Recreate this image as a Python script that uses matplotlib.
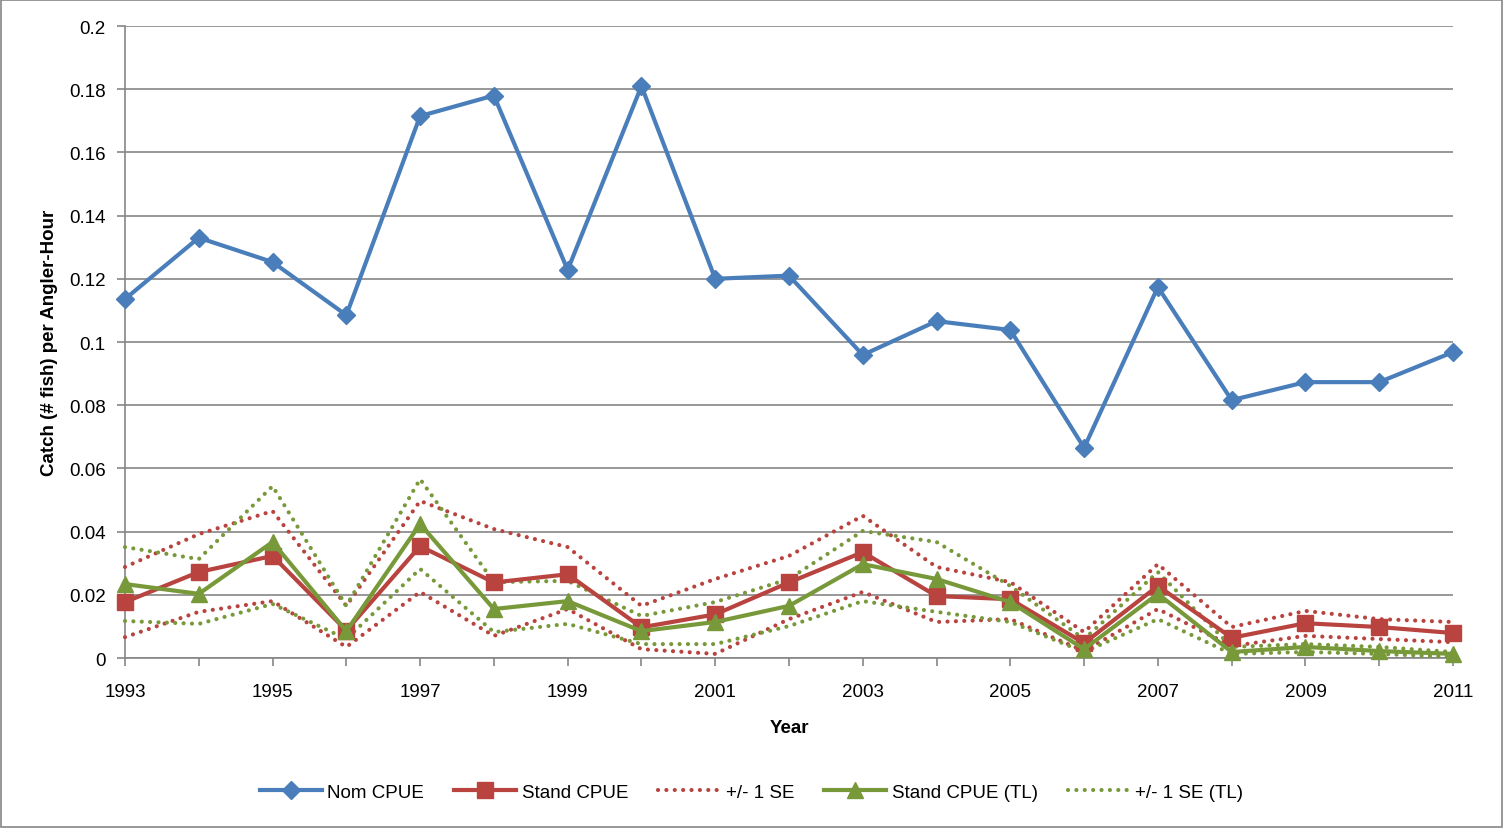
import matplotlib.pyplot as plt
from matplotlib.patches import Rectangle

years = list(range(1993, 2012))

nom_cpue = [0.1136, 0.1330, 0.1253, 0.1085, 0.1715, 0.1780, 0.1228, 0.1810, 0.1200, 0.1210,
            0.0959, 0.1066, 0.1038, 0.0665, 0.1174, 0.0816, 0.0873, 0.0873, 0.0968]

stand_cpue = [0.0177, 0.0272, 0.0323, 0.0087, 0.0354, 0.0239, 0.0265, 0.0097, 0.0138, 0.0239,
              0.0335, 0.0196, 0.0186, 0.0047, 0.0228, 0.0064, 0.0110, 0.0098, 0.0079]
se_upper = [0.0288, 0.0392, 0.0465, 0.0165, 0.0497, 0.0408, 0.0351, 0.0165, 0.0250, 0.0323,
            0.0450, 0.0288, 0.0240, 0.0082, 0.0297, 0.0098, 0.0149, 0.0123, 0.0114]
se_lower = [0.0066, 0.0146, 0.0180, 0.0035, 0.0209, 0.0070, 0.0155, 0.0028, 0.0013, 0.0123,
            0.0209, 0.0114, 0.0123, 0.0022, 0.0155, 0.0038, 0.0070, 0.0060, 0.0050]

stand_tl = [0.0234, 0.0203, 0.0367, 0.0085, 0.0424, 0.0155, 0.0180, 0.0085, 0.0114, 0.0165,
            0.0297, 0.0250, 0.0177, 0.0028, 0.0203, 0.0019, 0.0035, 0.0022, 0.0013]
se_tl_upper = [0.0351, 0.0313, 0.0544, 0.0165, 0.0566, 0.0240, 0.0244, 0.0133, 0.0177, 0.0250,
               0.0402, 0.0367, 0.0228, 0.0060, 0.0272, 0.0035, 0.0044, 0.0035, 0.0019]
se_tl_lower = [0.0117, 0.0108, 0.0171, 0.0060, 0.0282, 0.0082, 0.0108, 0.0044, 0.0044, 0.0101,
               0.0180, 0.0146, 0.0114, 0.0019, 0.0123, 0.0013, 0.0019, 0.0013, 0.0003]

BLUE = '#4A7EBB'
RED = '#B8433F'
GREEN = '#78993A'
GRID = '#868686'

plt.rcParams['font.family'] = ['Liberation Sans', 'DejaVu Sans']

fig = plt.figure(figsize=(15.03, 8.29), dpi=100)
ax = fig.add_axes([125 / 1503, 1 - 659 / 829, (1453 - 125) / 1503, (659 - 27) / 829])

dot = dict(linestyle=(0, (0.01, 2.0)), linewidth=3.0, dash_capstyle='round', clip_on=False)

ax.plot(years, nom_cpue, color=BLUE, linewidth=3, marker='D', markersize=9, label='Nom CPUE',
        zorder=6, clip_on=False)
ax.plot(years, stand_cpue, color=RED, linewidth=3, marker='s', markersize=11, label='Stand CPUE',
        zorder=5, clip_on=False)
ax.plot(years, se_upper, color=RED, label='+/- 1 SE', zorder=3, **dot)
ax.plot(years, se_lower, color=RED, zorder=3, **dot)
ax.plot(years, stand_tl, color=GREEN, linewidth=3, marker='^', markersize=12, label='Stand CPUE (TL)',
        zorder=5, clip_on=False)
ax.plot(years, se_tl_upper, color=GREEN, label='+/- 1 SE (TL)', zorder=4, **dot)
ax.plot(years, se_tl_lower, color=GREEN, zorder=4, **dot)

ax.set_xlim(1993, 2011)
ax.set_ylim(0, 0.2)
ax.set_xticks(years)
ax.set_xticklabels([str(y) if (y - 1993) % 2 == 0 else '' for y in years])
ax.set_yticks([0, 0.02, 0.04, 0.06, 0.08, 0.1, 0.12, 0.14, 0.16, 0.18, 0.2])
ax.set_yticklabels(['0', '0.02', '0.04', '0.06', '0.08', '0.1', '0.12', '0.14', '0.16', '0.18', '0.2'])
ax.tick_params(axis='both', labelsize=13.5, color=GRID, length=6, width=1.2)
ax.tick_params(axis='x', pad=12)
ax.tick_params(axis='y', pad=8)
ax.yaxis.grid(True, color=GRID, linewidth=1.2)
ax.set_axisbelow(True)
for side in ['top', 'right']:
    ax.spines[side].set_visible(False)
for side in ['left', 'bottom']:
    ax.spines[side].set_color(GRID)
    ax.spines[side].set_linewidth(1.2)

ax.set_xlabel('Year', fontsize=13.5, fontweight='bold', labelpad=14)
ax.set_ylabel('Catch (# fish) per Angler-Hour', fontsize=13.5, fontweight='bold', labelpad=8)

handles, labels = ax.get_legend_handles_labels()
fig.legend(handles, labels, loc='center', bbox_to_anchor=(0.5, 1 - 793 / 829), ncol=5,
           frameon=False, fontsize=13.5, handlelength=3.3, columnspacing=1.6, handletextpad=0.3)

fig.patches.append(Rectangle((0.0008, 0.001), 0.9984, 0.998, transform=fig.transFigure,
                             fill=False, edgecolor=GRID, linewidth=1.2))

plt.savefig('out.png', dpi=100)
